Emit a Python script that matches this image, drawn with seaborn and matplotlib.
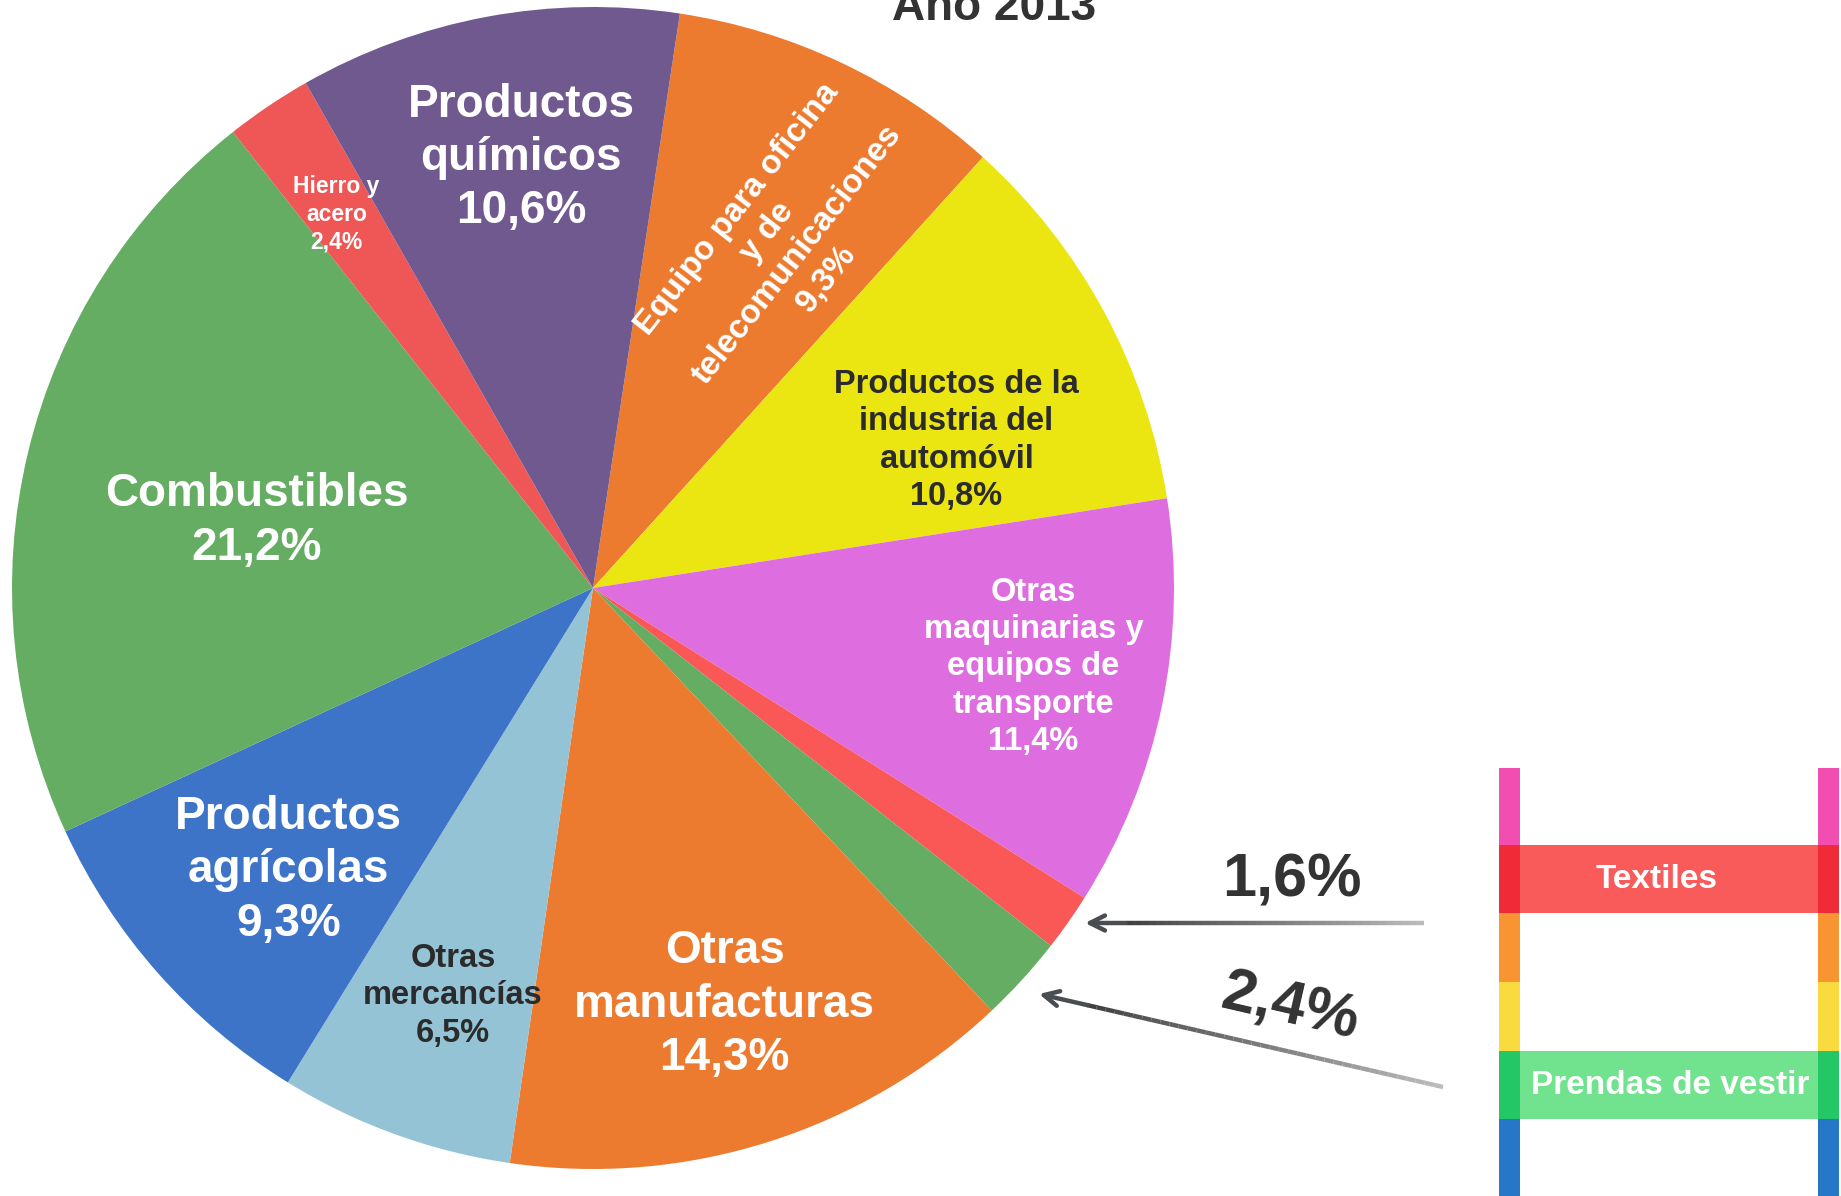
import numpy as np
import matplotlib
matplotlib.use("Agg")
import matplotlib.pyplot as plt
from matplotlib.collections import LineCollection
import seaborn as sns

sns.set_theme(style="white")
plt.rcParams["font.family"] = ["Liberation Sans", "DejaVu Sans"]

# Exportaciones por producto, año 2013 (en sentido horario desde arriba)
categorias = ["Equipo para oficina\ny de\ntelecomunicaciones",
              "Productos de la\nindustria del\nautomóvil",
              "Otras\nmaquinarias y\nequipos de\ntransporte",
              "Textiles",
              "Prendas de vestir",
              "Otras\nmanufacturas",
              "Otras\nmercancías",
              "Productos\nagrícolas",
              "Combustibles",
              "Hierro y\nacero",
              "Productos\nquímicos"]
porcentajes = [9.3, 10.8, 11.4, 1.6, 2.4, 14.3, 6.5, 9.3, 21.2, 2.4, 10.6]
colores = ["#EC7B30", "#EBE512", "#DE6EE0", "#FA5757", "#64AD62", "#EC7B30",
           "#93C3D5", "#3D74C7", "#64AD62", "#EF5656", "#70598F"]

# colores del "arco iris" de la leyenda
escalera = ["#F24DB0", "#F02A37", "#F89431", "#F9DB40", "#23C766", "#2777C8"]

# estilo de las etiquetas dentro de la torta
color_texto = ["white", "#2b2b2b", "white", None, None, "white",
               "#2b2b2b", "white", "white", "white", "white"]
tam_texto = [24, 23.5, 23.5, 0, 0, 33, 23.5, 33, 33, 16.5, 33]
radio_texto = [0.676, 0.675, 0.77, 0, 0, 0.752, 0.742, 0.715, 0.59, 0.78, 0.75]
giro_ang = [-3.4, -6.3, 1.5, 0, 0, 0, 1, 1.3, 2.2, 0.5, -1]
rotacion = [52, 0, 0, 0, 0, 0, 0, 0, 0, 0, 0]

W, H = 1841, 1196


def py(y):
    return H - y


fig = plt.figure(figsize=(W / 100, H / 100), dpi=100)
ax = fig.add_axes([0, 0, 1, 1])

cx, cy, R = 593, py(588), 581
wedges, _ = ax.pie(porcentajes, colors=colores, startangle=81.4,
                   counterclock=False, radius=R, center=(cx, cy),
                   wedgeprops=dict(linewidth=0))

for i, w in enumerate(wedges):
    if tam_texto[i] == 0:
        continue
    ang = np.deg2rad((w.theta1 + w.theta2) / 2 + giro_ang[i])
    r = radio_texto[i] * R
    txt = "{}\n{}%".format(categorias[i], str(porcentajes[i]).replace(".", ","))
    ax.text(cx + r * np.cos(ang), cy + r * np.sin(ang), txt,
            ha="center", va="center", multialignment="center",
            fontsize=tam_texto[i], fontweight="bold", color=color_texto[i],
            rotation=rotacion[i], linespacing=1.27)

# titulo (cortado en el borde superior)
ax.text(994, py(20), "Año 2013", ha="center", va="baseline", fontsize=33,
        fontweight="bold", color="#333333")


# flechas hacia las porciones pequeñas
def flecha(tail, head):
    tail = np.array(tail, dtype=float)
    head = np.array(head, dtype=float)
    cerca = head + (tail - head) * 0.12
    ax.annotate("", xy=(head[0], py(head[1])), xytext=(cerca[0], py(cerca[1])),
                arrowprops=dict(arrowstyle="->,head_length=0.9,head_width=0.45",
                                lw=3.2, color="#4a4d52", shrinkA=0, shrinkB=0))
    n = 40
    xs = np.linspace(tail[0], cerca[0], n)
    ys = np.linspace(tail[1], cerca[1], n)
    pts = np.column_stack([xs, py(ys)]).reshape(-1, 1, 2)
    segs = np.concatenate([pts[:-1], pts[1:]], axis=1)
    cols = plt.cm.Greys(np.linspace(0.38, 0.8, n - 1))
    ax.add_collection(LineCollection(segs, colors=cols, linewidths=3.2,
                                     capstyle="butt"))


flecha((1424, 923), (1085, 923))
flecha((1443, 1087), (1039, 994))

ax.text(1292, py(896), "{}%".format(str(porcentajes[3]).replace(".", ",")),
        ha="center", va="baseline", fontsize=44, fontweight="bold", color="#333333")
ax.text(1290, py(1008), "{}%".format(str(porcentajes[4]).replace(".", ",")),
        ha="center", va="center", fontsize=44, fontweight="bold", color="#333333",
        rotation=-13)

# leyenda en forma de escalera
bordes = [768, 845, 913, 982, 1051, 1119, 1196]
for j, c in enumerate(escalera):
    for xc in (1509.5, 1828.5):
        ax.bar(xc, bordes[j + 1] - bordes[j], width=21, bottom=py(bordes[j + 1]),
               color=c, linewidth=0)

ax.bar(1669, 68, width=298, bottom=py(913), color="#F95A5A", linewidth=0)
ax.bar(1669, 68, width=298, bottom=py(1119), color="#71E28E", linewidth=0)
ax.text(1657, py(879), categorias[3], ha="center", va="center", fontsize=24,
        fontweight="bold", color="white")
ax.text(1670, py(1085), categorias[4], ha="center", va="center", fontsize=24,
        fontweight="bold", color="white")

ax.set_xlim(0, W)
ax.set_ylim(0, H)
ax.set_aspect("equal")
ax.axis("off")

fig.savefig("out.png", dpi=100)
